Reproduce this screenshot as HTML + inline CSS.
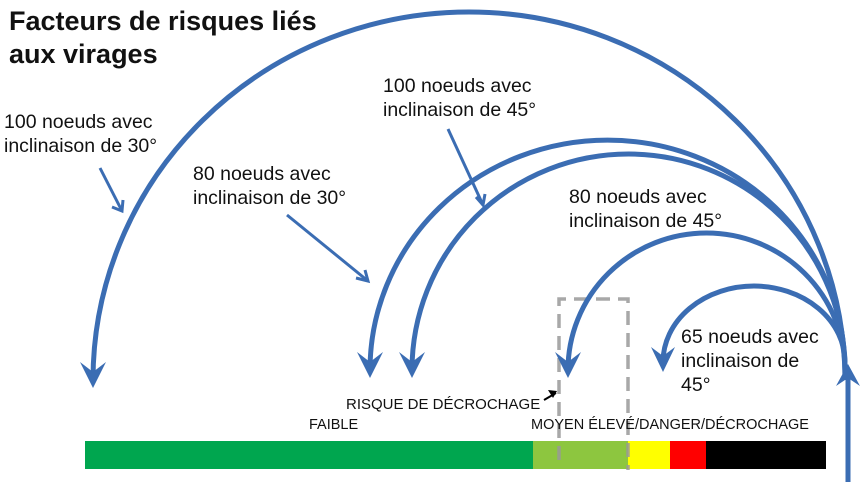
<!DOCTYPE html>
<html><head><meta charset="utf-8"><style>
html,body{margin:0;padding:0;background:#fff;}
svg{display:block;}
text{font-family:"Liberation Sans",sans-serif;fill:#111;}
</style></head><body>
<svg width="864" height="492" viewBox="0 0 864 492" xmlns="http://www.w3.org/2000/svg">
<!-- bar -->
<rect x="85" y="441" width="448" height="28" fill="#00A64F"/>
<rect x="533" y="441" width="95" height="28" fill="#8DC63F"/>
<rect x="628" y="441" width="42" height="28" fill="#FFFF00"/>
<rect x="670" y="441" width="36" height="28" fill="#FF0000"/>
<rect x="706" y="441" width="120" height="28" fill="#000"/>
<!-- dashed box -->
<path d="M559 460 L559 299 L628 299 L628 470" fill="none" stroke="#999" stroke-opacity="0.85" stroke-width="3.5" stroke-dasharray="14,8"/>
<g fill="none" stroke="#3B6DB3" stroke-width="5">
<path d="M845 380 A376 368 0 0 0 93 380"/>
<path d="M845 370 A237.5 230 0 0 0 370 370"/>
<path d="M845 370 A216.5 216 0 0 0 412 370"/>
<path d="M845 370 A138.5 137 0 0 0 568 370"/>
<path d="M845 362 A91 76 0 0 0 663 362"/>
<path d="M848 482 L848 372"/>
</g>
<g fill="#3B6DB3">
<polygon points="93,388 80,362 93,372 106,362"/>
<polygon points="370,378 357,352 370,362 383,352"/>
<polygon points="412,378 399,352 412,362 425,352"/>
<polygon points="568,378 555,352 568,362 581,352"/>
<polygon points="663,372 651,347 663,356 675,347"/>
<polygon points="848,364 836,386 848,378 860,386"/>
</g>
<!-- thin pointer arrows -->
<g stroke="#3B6DB3" stroke-width="3" fill="none">
<path d="M100 168 L122 211"/><path d="M112 207 L122 211 L123 200"/>
<path d="M287 215 L368 281"/><path d="M356 278 L368 281 L365 270"/>
<path d="M448 129 L483 205"/><path d="M476 197 L483 205 L485 194"/>
</g>
<path d="M544 400 L556 393" stroke="#000" stroke-width="2"/>
<polygon points="557,391 548,390 553,398" fill="#000"/>
<!-- texts -->
<text x="9" y="30" font-size="27" font-weight="bold">Facteurs de risques liés</text>
<text x="9" y="63" font-size="27" font-weight="bold">aux virages</text>
<text x="4" y="128" font-size="19.5">100 noeuds avec</text>
<text x="4" y="152" font-size="19.5">inclinaison de 30°</text>
<text x="193" y="180" font-size="19.5">80 noeuds avec</text>
<text x="193" y="204" font-size="19.5">inclinaison de 30°</text>
<text x="383" y="92" font-size="19.5">100 noeuds avec</text>
<text x="383" y="116" font-size="19.5">inclinaison de 45°</text>
<text x="569" y="203" font-size="19.5">80 noeuds avec</text>
<text x="569" y="227" font-size="19.5">inclinaison de 45°</text>
<text x="681" y="343" font-size="19.5">65 noeuds avec</text>
<text x="681" y="367" font-size="19.5">inclinaison de</text>
<text x="681" y="391" font-size="19.5">45°</text>
<text x="346" y="409" font-size="15">RISQUE DE DÉCROCHAGE</text>
<text x="309" y="429" font-size="14.5">FAIBLE</text>
<text x="531" y="429" font-size="14.5">MOYEN  ÉLEVÉ/DANGER/DÉCROCHAGE</text>
</svg>
</body></html>
